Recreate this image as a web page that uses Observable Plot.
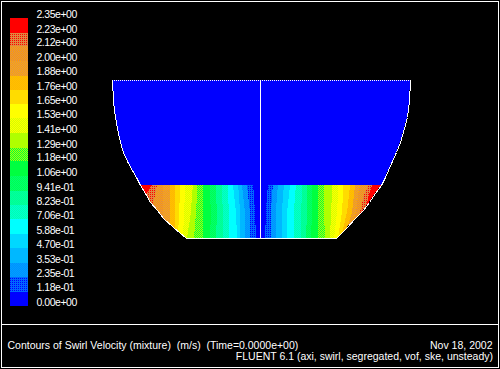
<!DOCTYPE html>
<html><head><meta charset="utf-8">
<script src="https://cdn.jsdelivr.net/npm/d3@7"></script>
<script src="https://cdn.jsdelivr.net/npm/@observablehq/plot@0.6"></script>
<style>
html,body{margin:0;padding:0;background:#000;overflow:hidden}
#c{position:relative;width:500px;height:369px}
#c svg{position:absolute;left:0;top:0;display:block}
</style></head><body><div id="c"></div>
<script>
// colour-bar tick labels, top to bottom
const tickLabels = ["2.35e+00","2.23e+00","2.12e+00","2.00e+00","1.88e+00","1.76e+00","1.65e+00","1.53e+00","1.41e+00","1.29e+00","1.18e+00","1.06e+00","9.41e-01","8.23e-01","7.06e-01","5.88e-01","4.70e-01","3.53e-01","2.35e-01","1.18e-01","0.00e+00"];
// 20 palette bands, hottest first: [base colour, dither colour]
const bandBase = ["#ff0000","#e08840","#dc8c50","#ffac00","#ffc000","#ffdc00","#ffff00","#d4ff00","#b0ff00","#b0ff00","#00ff40","#00ff70","#00ffa0","#00ffd0","#00ffff","#00d8ff","#00b8ff","#0090ff","#0068ff","#0000ff"];
const bandDot  = ["#ff0000","#ff0000","#ffa000","#e09050","#ffb800","#ffdc00","#ffff00","#ffff00","#b0ff00","#00ff40","#00ff40","#00ff50","#00ff90","#00ffb0","#00ffff","#00d8ff","#00b8ff","#00a0ff","#0000ff","#0000ff"];
// vessel wall profile
const wallY     = [80,101,117,128,142,152,161,170,177,185,193,202,210,218,227,238];
const wallLeft  = [112,113,115,117,120,123,127,132,136,140,145,150,157,163,173,186];
const wallRight = [410,409,407,404,400,396,392,388,385,381,375,369,363,355,347,336];
// band edges at four depths, left half: right edge of each band from red to the palest blue
const rowY = [185,195,212,238];
const left185 = [152,157,163,170,175,180,185,193,197,203,210,216,222,228,233,238,242,247,253];
const left195 = [146,155,163,170,175,180,185,192,197,203,210,216,222,228,234,239,243,248,254];
const left212 = [140,150,163,170,175,179,184,191,196,203,211,217,223,229,236,240,245,250,255];
const left238 = [140,150,160,170,175,178,183,187,194,203,210,216,223,229,237,240,245,250,256];
// right half: left edge of each band from palest blue to red
const right185 = [268,273,278,284,290,296,302,307,312,318,324,332,338,343,350,355,360,368,372];
const right195 = [267,272,277,283,289,295,302,307,312,318,324,332,338,343,349,354,358,364,369];
const right212 = [266,271,276,282,287,294,301,307,312,318,324,331,337,342,347,352,356,360,365];
const right238 = [265,271,276,282,287,294,301,306,311,318,325,330,334,338,341,344,347,350,354];
const axisX = 260, bottomY = 238, topY = 80;
const title = "Contours of Swirl Velocity (mixture)  (m/s)  (Time=0.0000e+00)";
const dateText = "Nov 18, 2002";
const solver = "FLUENT 6.1 (axi, swirl, segregated, vof, ske, unsteady)";

const font = {fontFamily:"'Liberation Sans',Arial,sans-serif", fontSize:10.5, fill:"white", stroke:"none"};
const levels = tickLabels.map(Number);
const bandRects = d3.range(20).map(i => ({top:levels[i], bottom:levels[i+1], i}));

const bar = Plot.plot({
  width:500, height:369, margin:0,
  style:{background:"#000", letterSpacing:"-0.47px"},
  x:{domain:[0,500], range:[0,500], axis:null},
  y:{domain:[0,2.35], range:[306,18], axis:null},
  marks:[
    ...bandRects.map(b => Plot.rect([b], {x1:()=>10, x2:()=>28, y1:"bottom", y2:"top", fill:`url(#p${b.i})`, shapeRendering:"crispEdges"})),
    Plot.text(tickLabels, {x:()=>36, y:d=>+d, text:d=>d, textAnchor:"start", dy:-4, ...font})
  ]
});

const leftRows  = [left185,left195,left212,left238];
const rightRows = [right185,right195,right212,right238];
const leftArea = i => rowY.map((y,r)=>({y, x1: i===0 ? 100 : leftRows[r][i-1], x2:leftRows[r][i]}));
const rightArea = i => rowY.map((y,r)=>({y, x1: rightRows[r][18-i], x2: i===0 ? 400 : rightRows[r][19-i]}));
const wall = wallY.map((y,i)=>({y, l:wallLeft[i], r:wallRight[i]}));
const crisp = {shapeRendering:"crispEdges"};

const field = Plot.plot({
  width:500, height:369, margin:0,
  style:{background:"transparent"},
  x:{domain:[0,500], range:[0,500], axis:null},
  y:{domain:[0,369], range:[0,369], axis:null},
  marks:[
    Plot.areaX(wall,{y:"y",x1:"l",x2:"r",fill:"#0000ff",...crisp}),
    ...d3.range(19).map(i => Plot.areaX(leftArea(i),{y:"y",x1:"x1",x2:"x2",fill:`url(#p${i})`,...crisp})),
    ...d3.range(19).map(i => Plot.areaX(rightArea(i),{y:"y",x1:"x1",x2:"x2",fill:`url(#p${i})`,...crisp})),
    Plot.areaX(wall,{y:"y",x1:()=>95,x2:"l",fill:"#000",...crisp}),
    Plot.areaX(wall,{y:"y",x1:"r",x2:()=>430,fill:"#000",...crisp}),
    Plot.line(wall,{x:"l",y:"y",stroke:"white",strokeWidth:1,...crisp}),
    Plot.line(wall,{x:"r",y:"y",stroke:"white",strokeWidth:1,...crisp}),
    Plot.ruleY([topY],{x1:()=>112,x2:()=>410,stroke:"white",strokeDasharray:"1,1",...crisp}),
    Plot.ruleY([bottomY],{x1:()=>186,x2:()=>336,stroke:"white",...crisp}),
    Plot.ruleX([axisX],{y1:()=>topY,y2:()=>bottomY,stroke:"white",...crisp}),
    // window frame
    Plot.ruleX([1,498],{y1:()=>1,y2:()=>368,stroke:"white",...crisp}),
    Plot.ruleY([1,324,367],{x1:()=>1,x2:()=>499,stroke:"white",...crisp}),
    Plot.text([title],{x:()=>7,y:()=>345,text:d=>d,textAnchor:"start",...font}),
    Plot.text([dateText],{x:()=>492,y:()=>345,text:d=>d,textAnchor:"end",...font}),
    Plot.text([solver],{x:()=>492.5,y:()=>356,text:d=>d,textAnchor:"end",...font})
  ]
});

// dither tiles used as fills
const ns = "http://www.w3.org/2000/svg";
const defs = document.createElementNS(ns,"defs");
bandBase.forEach((base,i)=>{
  const p = document.createElementNS(ns,"pattern");
  p.setAttribute("id",`p${i}`);
  p.setAttribute("patternUnits","userSpaceOnUse");
  p.setAttribute("width",2); p.setAttribute("height",2);
  const r = document.createElementNS(ns,"rect");
  r.setAttribute("width",2); r.setAttribute("height",2); r.setAttribute("fill",base);
  p.appendChild(r);
  [[0,0],[1,1]].forEach(([x,y])=>{
    const d = document.createElementNS(ns,"rect");
    d.setAttribute("x",x); d.setAttribute("y",y);
    d.setAttribute("width",1); d.setAttribute("height",1);
    d.setAttribute("fill", (x===1 && [1,18].includes(i)) ? base : bandDot[i]);
    p.appendChild(d);
  });
  defs.appendChild(p);
});
bar.insertBefore(defs, bar.firstChild);
const host = document.getElementById("c");
host.appendChild(bar); host.appendChild(field);
</script></body></html>
